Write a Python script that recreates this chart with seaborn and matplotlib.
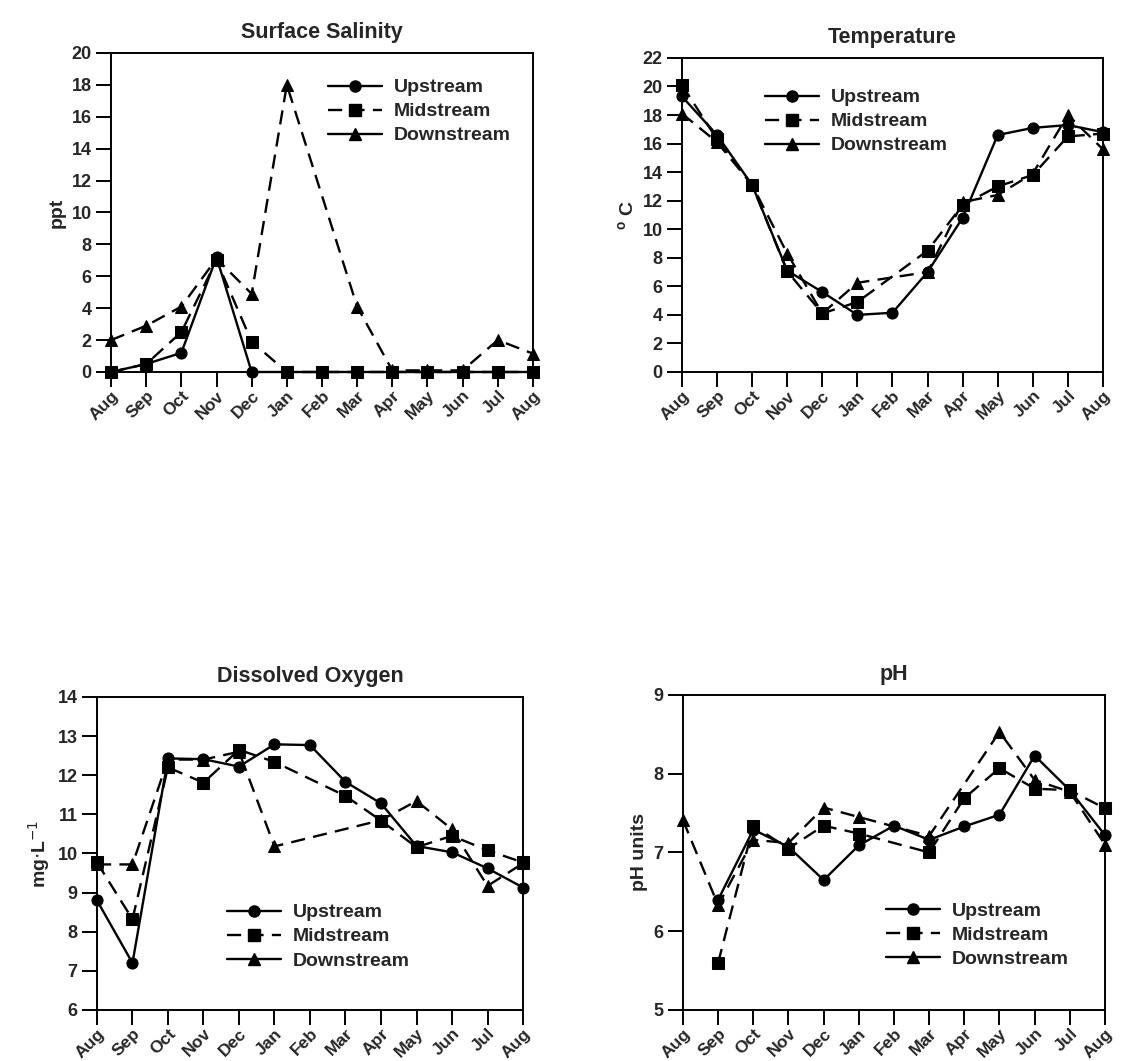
import numpy as np
import pandas as pd
import matplotlib.pyplot as plt
from matplotlib.lines import Line2D
import seaborn as sns

months = ['Aug', 'Sep', 'Oct', 'Nov', 'Dec', 'Jan', 'Feb', 'Mar', 'Apr', 'May', 'Jun', 'Jul', 'Aug']
sites = ['Upstream', 'Midstream', 'Downstream']
nan = np.nan

# surface salinity (ppt)
sal_up = [0.0, 0.5, 1.2, 7.2, 0.0, 0.0, 0.0, 0.0, 0.0, 0.0, 0.0, 0.0, 0.0]
sal_mid = [0.0, 0.5, 2.5, 7.0, 1.9, 0.0, 0.0, 0.0, 0.0, 0.0, 0.0, 0.0, 0.0]
sal_down = [2.0, 2.9, 4.1, 7.1, 4.9, 18.0, nan, 4.1, 0.1, 0.1, 0.1, 2.0, 1.15]

# temperature (C)
tmp_up = [19.3, 16.6, 13.1, 7.1, 5.6, 4.0, 4.15, 7.0, 10.8, 16.6, 17.1, 17.3, 16.8]
tmp_mid = [20.1, 16.3, 13.1, 7.05, 4.1, 4.9, nan, 8.5, 11.7, 13.0, 13.8, 16.5, 16.7]
tmp_down = [18.1, 16.1, 13.1, 8.3, 4.1, 6.25, nan, 7.0, 11.9, 12.4, 13.9, 18.0, 15.6]

# dissolved oxygen (mg/L)
do_up = [8.8, 7.2, 12.43, 12.41, 12.22, 12.79, 12.77, 11.83, 11.28, 10.19, 10.03, 9.62, 9.13]
do_mid = [9.77, 8.32, 12.2, 11.81, 12.65, 12.34, nan, 11.47, 10.84, 10.16, 10.45, 10.08, 9.77]
do_down = [9.72, 9.72, 12.4, 12.4, 12.6, 10.18, nan, nan, 10.85, 11.34, 10.62, 9.17, 9.75]

# pH
ph_up = [nan, 6.40, 7.29, 7.07, 6.65, 7.09, 7.34, 7.16, 7.33, 7.48, 8.23, 7.79, 7.22]
ph_mid = [nan, 5.6, 7.34, 7.05, 7.34, 7.24, nan, 7.0, 7.69, 8.07, 7.81, 7.79, 7.56]
ph_down = [7.41, 6.33, 7.16, 7.12, 7.57, 7.45, nan, 7.21, nan, 8.53, 7.92, 7.77, 7.10]

sns.set_style('ticks')
plt.rcParams['font.family'] = ['Liberation Sans', 'DejaVu Sans']

fig = plt.figure(figsize=(11.25, 10.61), dpi=100)

panels = [
    ('Surface Salinity', 'ppt', (sal_up, sal_mid, sal_down), (0, 20), 2,
     [0.0987, 0.6494, 0.375, 0.3007], (0.514, 0.919)),
    ('Temperature', '$\\mathregular{^o}$ C', (tmp_up, tmp_mid, tmp_down), (0, 22), 2,
     [0.6062, 0.6494, 0.3742, 0.296], (0.197, 0.902)),
    ('Dissolved Oxygen', 'mg$\\cdot$L$^{-1}$', (do_up, do_mid, do_down), (6, 14), 1,
     [0.0862, 0.0481, 0.3787, 0.295], (0.305, 0.339)),
    ('pH', 'pH units', (ph_up, ph_mid, ph_down), (5, 9), 1,
     [0.6071, 0.0481, 0.3751, 0.2969], (0.481, 0.342)),
]

markers = {'Upstream': 'o', 'Midstream': 's', 'Downstream': '^'}
dashes = {'Upstream': '', 'Midstream': (6, 3.5), 'Downstream': (6, 3.5)}

for title, ylabel, series, ylim, step, rect, legpos in panels:
    ax = fig.add_axes(rect)
    rows = []
    for site, vals in zip(sites, series):
        for i, v in enumerate(vals):
            rows.append({'month': i, 'value': v, 'site': site})
    df = pd.DataFrame(rows).dropna()
    sns.lineplot(data=df, x='month', y='value', style='site', style_order=sites,
                 markers=markers, dashes=dashes, color='black', linewidth=1.7,
                 markersize=8, markeredgecolor='black', errorbar=None,
                 legend=False, ax=ax)
    for ln in ax.get_lines():
        ln.set_clip_on(False)
    ax.set_xlim(0, 12)
    ax.set_ylim(*ylim)
    ax.set_yticks(np.arange(ylim[0], ylim[1] + step / 2, step))
    ax.set_xticks(range(13))
    ax.set_xticklabels(months, rotation=45, ha='right', rotation_mode='anchor',
                       fontsize=12.5, fontweight='bold')
    for lab in ax.get_yticklabels():
        lab.set_fontweight('bold')
        lab.set_fontsize(13)
    ax.tick_params(axis='both', direction='out', length=11, width=1.4, color='black')
    ax.tick_params(axis='x', pad=0.5)
    ax.tick_params(axis='y', pad=3)
    for sp in ax.spines.values():
        sp.set_visible(True)
        sp.set_linewidth(1.4)
        sp.set_color('black')
    ax.set_xlabel('')
    ax.set_ylabel(ylabel, fontsize=14, fontweight='bold', labelpad=4)
    ax.set_title(title, fontsize=15.5, fontweight='bold', pad=11)

    handles = [
        Line2D([], [], color='black', marker='o', linestyle='-', lw=1.7, markersize=8),
        Line2D([], [], color='black', marker='s', linestyle=(0, (6, 3.5)), lw=1.7, markersize=8),
        Line2D([], [], color='black', marker='^', linestyle='-', lw=1.7, markersize=8),
    ]
    ax.legend(handles, sites, loc='upper left', bbox_to_anchor=legpos, frameon=False,
              handlelength=2.8, labelspacing=0.33, handletextpad=0.6,
              borderaxespad=0, borderpad=0,
              prop={'size': 14, 'weight': 'bold'})

fig.savefig('out.png', dpi=100)
